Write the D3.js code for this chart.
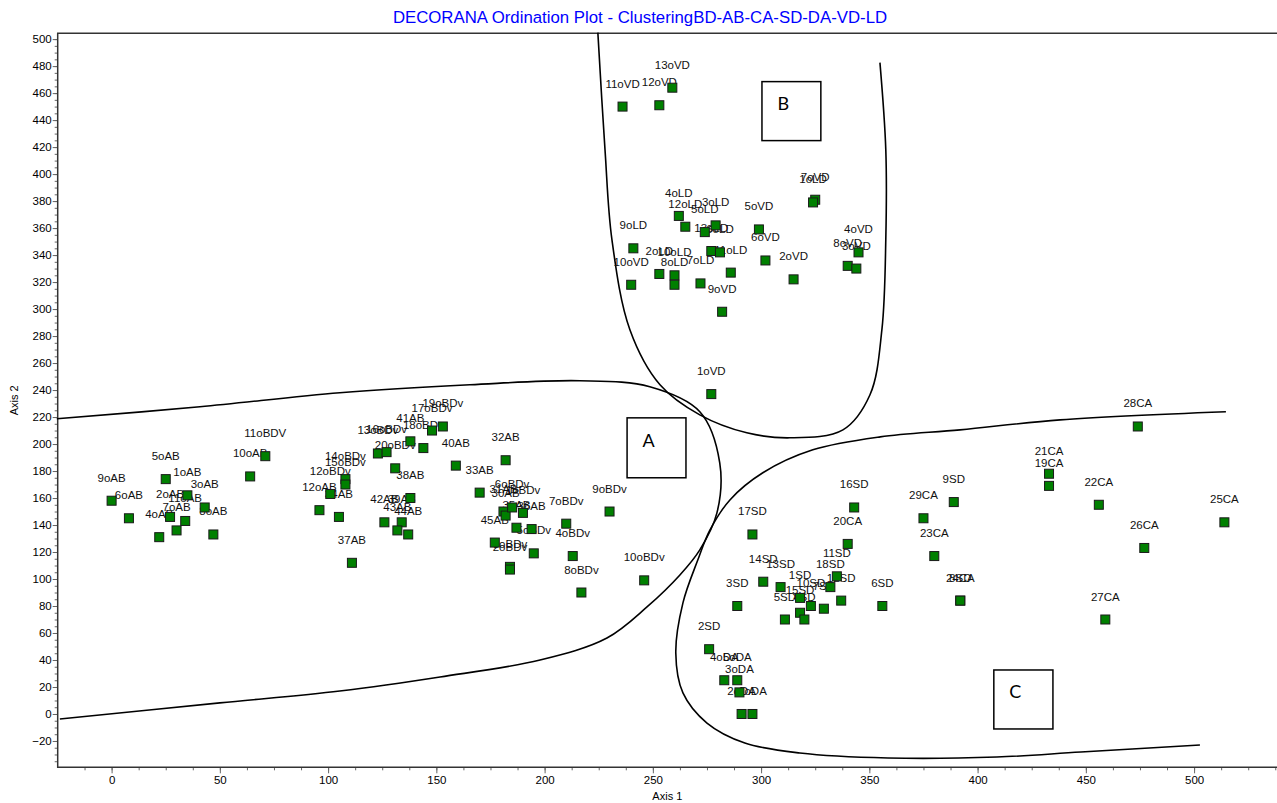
<!DOCTYPE html>
<html>
<head>
<meta charset="utf-8">
<script src="https://cdn.jsdelivr.net/npm/d3@7"></script>
<style>
  body { margin: 0; background: #fff; }
  svg { display: block; }
</style>
</head>
<body>
<div id="chart"></div>
<script>
// sample scores
var pointLabels = [
  "9oAB","6oAB","5oAB","1oAB","2oAB","4oAB","7oAB","11oAB","3oAB","8oAB",
  "10oAB","11oBDV","12oAB","12oBDv","34AB","14oBDv","15oBDv","13oBDv","16oBDv","20oBDv",
  "41AB","18oBDv","17oBDv","19oBDv","40AB","32AB","33AB","38AB","42AB","39AB",
  "43AB","44AB","37AB","45AB","31AB","30AB","1oBDv","6oBDv","35AB","36AB",
  "5oBDv","3oBDv","2oBDv","7oBDv","4oBDv","8oBDv","9oBDv","10oBDv",
  "11oVD","12oVD","13oVD","7oVD","1oLD","4oLD","12oLD","3oLD","5oLD","13oLD",
  "6oLD","11oLD","9oLD","2oLD","10oLD","8oLD","10oVD","7oLD","9oVD","1oVD",
  "5oVD","6oVD","2oVD","4oVD","8oVD","3oVD",
  "16SD","17SD","20CA","29CA","9SD","23CA","11SD","18SD","14SD","13SD",
  "3SD","1SD","12SD","10SD","7SD","15SD","5SD","4SD","6SD","24CA",
  "8SD","28CA","21CA","19CA","22CA","25CA","26CA","27CA","2SD","4oDA",
  "5oDA","3oDA","2oDA","1oDA"
];
var axis1Scores = [
  0, 8, 25, 35, 27, 22, 30, 34, 43, 47,
  64, 71, 96, 101, 105, 108, 108, 123, 127, 131,
  138, 144, 148, 153, 159, 182, 170, 138, 126, 134,
  132, 137, 111, 177, 181, 182, 190, 185, 187, 194,
  195, 184, 184, 210, 213, 217, 230, 246,
  236, 253, 259, 325, 324, 262, 265, 279, 274, 277,
  281, 286, 241, 253, 260, 260, 240, 272, 282, 277,
  299, 302, 315, 345, 340, 344,
  343, 296, 340, 375, 389, 380, 335, 332, 301, 309,
  289, 318, 337, 323, 329, 318, 311, 320, 356, 392,
  392, 474, 433, 433, 456, 514, 477, 459, 276, 283,
  289, 290, 291, 296
];
var axis2Scores = [
  158, 145, 174, 162, 146, 131, 136, 143, 153, 133,
  176, 191, 151, 163, 146, 174, 170, 193, 194, 182,
  202, 197, 210, 213, 184, 188, 164, 160, 142, 142,
  136, 133, 112, 127, 150, 147, 149, 153, 138, 137,
  119, 109, 107, 141, 117, 90, 150, 99,
  450, 451, 464, 381, 379, 369, 361, 362, 357, 343,
  342, 327, 345, 326, 325, 318, 318, 319, 298, 237,
  359, 336, 322, 342, 332, 330,
  153, 133, 126, 145, 157, 117, 102, 94, 98, 94,
  80, 86, 84, 80, 78, 75, 70, 70, 80, 84,
  84, 213, 178, 169, 155, 142, 123, 70, 48, 25,
  25, 16, 0, 0
];

var xTicks = [0, 50, 100, 150, 200, 250, 300, 350, 400, 450, 500];
var yTicks = d3.range(-20, 501, 20);

// hand drawn cluster outlines, in axis units
var curveA = [[-25.3,218.7],[40.8,227.6],[105.4,238],[165.5,243.9],[216.3,246.9],[248.6,242.4],
  [271.7,223.9],[280.9,186.1],[279.6,149],[271.7,121.6],[262.5,103],[247.3,79.3],[228.8,56.3],
  [197.9,40],[151.7,27.4],[105.4,17],[50,8.2],[-23.9,-3.7]];
var curveB = [[224.6,504.8],[227.9,418.1],[231.1,351.4],[239.4,284.7],[253.3,243.9],[271.7,221.6],
  [293.4,208.3],[313.3,204.6],[337.8,210.5],[350.3,236.5],[355.8,284.7],[357.6,351.4],
  [357.6,418.1],[354.9,482.6]];
var curveC = [[514.7,223.9],[438.1,217.9],[391.9,210.5],[355,205.3],[323.9,195.7],[300.8,178.7],
  [285.6,158.6],[276.4,136.4],[270.8,114.2],[263.9,82.3],[260.6,45.2],[263.9,15.6],[275,-6.7],
  [292.5,-21.5],[317.9,-28.9],[358.6,-32.6],[408.9,-31.9],[447.7,-28.2],[502.7,-23]];
var clusterNames = ["A", "B", "C"];
var clusterBoxes = [[238.1,219.4,265.3,175],[300.4,468.5,327.6,424.8],[407.5,32.6,434.8,-11.1]];

var width = 1277, height = 803;
var plotLeft = 57.7, plotTop = 33.3, plotBottom = 767.3, plotRight = 1277;

var svg = d3.select("#chart").append("svg")
  .attr("width", width)
  .attr("height", height)
  .style("font-family", "'Liberation Sans', Arial, sans-serif");

var x = d3.scaleLinear().domain([-24.9, 538.3]).range([plotLeft, plotRight]);
var y = d3.scaleLinear().domain([-39.5, 504.3]).range([plotBottom, plotTop]);

// title
svg.append("text")
  .attr("x", 640)
  .attr("y", 23)
  .attr("text-anchor", "middle")
  .style("font-size", "16.8px")
  .style("fill", "#0000ff")
  .text("DECORANA Ordination Plot - ClusteringBD-AB-CA-SD-DA-VD-LD");

// axes
var xAxis = d3.axisBottom(x).tickValues(xTicks).tickSize(6).tickPadding(3);
var xMinor = d3.axisBottom(x).tickValues(d3.range(-12.5, 538, 12.5)).tickSize(3).tickFormat("");
var yAxis = d3.axisLeft(y).tickValues(yTicks).tickSize(5).tickPadding(1);
var yMinor = d3.axisLeft(y).tickValues(d3.range(-35, 504, 5)).tickSize(3).tickFormat("");

function styleAxis(g) {
  g.select(".domain").remove();
  g.selectAll("line").attr("stroke", "#666");
  g.selectAll("text").style("font-size", "11.5px").style("fill", "#000")
    .style("font-family", "'Liberation Sans', Arial, sans-serif");
}

svg.append("g").attr("transform", "translate(0," + plotBottom + ")").call(xMinor).call(styleAxis);
svg.append("g").attr("transform", "translate(0," + plotBottom + ")").call(xAxis).call(styleAxis);
svg.append("g").attr("transform", "translate(" + plotLeft + ",0)").call(yMinor).call(styleAxis);
svg.append("g").attr("transform", "translate(" + plotLeft + ",0)").call(yAxis).call(styleAxis);

// frame lines
svg.append("path")
  .attr("d", "M" + plotRight + "," + plotTop + "H" + plotLeft + "V" + plotBottom + "H" + plotRight)
  .attr("fill", "none")
  .attr("stroke", "#333")
  .attr("stroke-width", 1.5);

svg.append("text")
  .attr("x", (plotLeft + plotRight) / 2)
  .attr("y", 800)
  .attr("text-anchor", "middle")
  .style("font-size", "11px")
  .text("Axis 1");

svg.append("text")
  .attr("transform", "translate(18," + (plotTop + plotBottom) / 2 + ") rotate(-90)")
  .attr("text-anchor", "middle")
  .style("font-size", "11px")
  .text("Axis 2");

// cluster outlines
var line = d3.line()
  .x(function(d) { return x(d[0]); })
  .y(function(d) { return y(d[1]); })
  .curve(d3.curveCatmullRom.alpha(0.5));

svg.selectAll(".outline")
  .data([curveA, curveB, curveC])
  .enter().append("path")
  .attr("class", "outline")
  .attr("d", line)
  .attr("fill", "none")
  .attr("stroke", "#000")
  .attr("stroke-width", 1.6);

var boxes = svg.selectAll(".box")
  .data(clusterBoxes)
  .enter().append("g");

boxes.append("rect")
  .attr("x", function(d) { return x(d[0]); })
  .attr("y", function(d) { return y(d[1]); })
  .attr("width", function(d) { return x(d[2]) - x(d[0]); })
  .attr("height", function(d) { return y(d[3]) - y(d[1]); })
  .attr("fill", "#fff")
  .attr("stroke", "#000")
  .attr("stroke-width", 1.5);

boxes.append("text")
  .attr("x", function(d) { return (x(d[0]) + x(d[2])) / 2 - 8; })
  .attr("y", function(d) { return (y(d[1]) + y(d[3])) / 2 - 1; })
  .attr("text-anchor", "middle")
  .style("font-family", "Lato, 'Open Sans', sans-serif")
  .style("font-size", "18px")
  .text(function(d, i) { return clusterNames[i]; });

// samples: labels first, squares on top
var samples = pointLabels.map(function(name, i) {
  return {name: name, a1: axis1Scores[i], a2: axis2Scores[i]};
});

svg.selectAll(".lbl")
  .data(samples)
  .enter().append("text")
  .attr("class", "lbl")
  .attr("x", function(d) { return x(d.a1); })
  .attr("y", function(d) { return y(d.a2) - 19; })
  .attr("text-anchor", "middle")
  .style("font-size", "11.5px")
  .style("fill", "#111")
  .text(function(d) { return d.name; });

svg.selectAll(".pt")
  .data(samples)
  .enter().append("rect")
  .attr("class", "pt")
  .attr("x", function(d) { return x(d.a1) - 4.5; })
  .attr("y", function(d) { return y(d.a2) - 4.5; })
  .attr("width", 9)
  .attr("height", 9)
  .attr("fill", "#008000")
  .attr("stroke", "#1a1a1a")
  .attr("stroke-width", 1);
</script>
</body>
</html>
